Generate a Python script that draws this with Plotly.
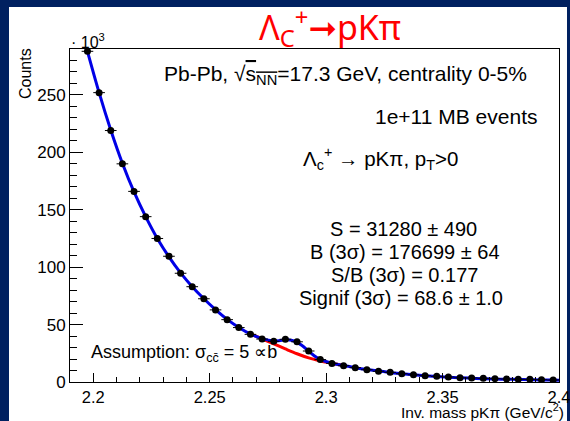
import plotly.graph_objects as go

# ---- data (counts in units of 10^3) ----
mass = [2.1975, 2.2025, 2.2075, 2.2125, 2.2175, 2.2225, 2.2275, 2.2325, 2.2375, 2.2425,
        2.2475, 2.2525, 2.2575, 2.2625, 2.2675, 2.2725, 2.2775, 2.2825, 2.2875, 2.2925,
        2.2975, 2.3025, 2.3075, 2.3125, 2.3175, 2.3225, 2.3275, 2.3325, 2.3375, 2.3425,
        2.3475, 2.3525, 2.3575, 2.3625, 2.3675, 2.3725, 2.3775, 2.3825, 2.3875, 2.3925,
        2.3975]
counts = [288, 252, 219, 190, 166, 144, 125, 109.5, 94.7, 83,
          72.5, 62.8, 54.3, 47.4, 41.5, 37.4, 35.4, 37.2, 35.0, 27.0,
          19.5, 16.2, 14.2, 12.5, 10.7, 9.3, 8.4, 7.2, 6.3, 5.5,
          4.9, 4.3, 3.7, 3.5, 3.2, 2.9, 2.6, 2.3, 2.3, 2.0,
          1.7]
half_bin = [0.0025] * len(mass)

# total fit curve
fit_x = [2.1975, 2.2025, 2.2075, 2.2125, 2.2175, 2.2225, 2.2275, 2.2325, 2.2375, 2.2425,
         2.2475, 2.2525, 2.2575, 2.2625, 2.2675, 2.2725, 2.2775, 2.2805, 2.2835, 2.2865,
         2.2895, 2.2925, 2.2955, 2.2985, 2.3025, 2.3075, 2.3125, 2.3175, 2.3225, 2.3275,
         2.3325, 2.3375, 2.3425, 2.3475, 2.3525, 2.3575, 2.3625, 2.3675, 2.3725, 2.3775,
         2.3825, 2.3875, 2.3925, 2.3975, 2.4]
fit_y = [288, 252, 219.5, 190.5, 165.5, 144, 125, 109, 95, 83,
         72.5, 63, 54.5, 47.5, 41.8, 37.8, 35.8, 36.2, 36.8, 35.5,
         32, 27, 22, 18.8, 16.3, 14.3, 12.5, 10.9, 9.5, 8.3,
         7.2, 6.3, 5.5, 4.8, 4.2, 3.7, 3.3, 2.9, 2.6, 2.4,
         2.2, 2.0, 1.8, 1.7, 1.6]

# background curve (visible part)
bkg_x = [2.2675, 2.2725, 2.2775, 2.2825, 2.2875, 2.2925, 2.2975, 2.3025, 2.3075]
bkg_y = [41.8, 37.6, 33.2, 28.8, 24.6, 21.0, 18.3, 16.3, 14.3]

x_ticks = [2.2, 2.25, 2.3, 2.35, 2.4]
x_ticklabels = ["2.2", "2.25", "2.3", "2.35", "2.4"]
y_ticks = [0, 50, 100, 150, 200, 250]
y_ticklabels = ["0", "50", "100", "150", "200", "250"]

# ---- geometry helpers (pixel -> paper) ----
W, H = 570, 421
L, R, T, B = 70, 559, 49, 382


def px(x):
    return (x - L) / (R - L)


def py(y):
    return (B - y) / (B - T)


FONT = "Liberation Sans, Arial, sans-serif"

fig = go.Figure()
fig.add_trace(go.Scatter(x=bkg_x, y=bkg_y, mode="lines", line=dict(color="#ff0000", width=3, shape="spline"),
                         hoverinfo="skip", cliponaxis=True))
fig.add_trace(go.Scatter(x=fit_x, y=fit_y, mode="lines", line=dict(color="#0000e6", width=3, shape="spline"),
                         hoverinfo="skip", cliponaxis=True))
fig.add_trace(go.Scatter(x=mass, y=counts, mode="markers",
                         marker=dict(color="black", size=7, symbol="circle"),
                         error_x=dict(type="data", array=half_bin, visible=True, color="black", thickness=1, width=0),
                         cliponaxis=True))

fig.update_layout(
    width=W, height=H,
    margin=dict(l=L, r=W - R, t=T, b=H - B, autoexpand=False),
    paper_bgcolor="#002060",
    plot_bgcolor="white",
    showlegend=False,
    font=dict(family=FONT, color="black", size=17),
    xaxis=dict(range=[2.19, 2.40001], tickvals=x_ticks, ticktext=x_ticklabels,
               ticks="inside", ticklen=9, tickwidth=1, tickcolor="black",
               minor=dict(dtick=0.01, tick0=2.19, ticks="inside", ticklen=5, tickcolor="black", tickwidth=1),
               showline=True, linecolor="black", linewidth=1, mirror=True,
               showgrid=False, zeroline=False, tickfont=dict(size=16.5),
               ticklabeloverflow="allow", automargin=False),
    yaxis=dict(range=[0, 290], tickvals=y_ticks, ticktext=y_ticklabels,
               ticks="inside", ticklen=13, tickwidth=1, tickcolor="black",
               minor=dict(dtick=10, tick0=0, ticks="inside", ticklen=7, tickcolor="black", tickwidth=1),
               showline=True, linecolor="black", linewidth=1, mirror=True,
               showgrid=False, zeroline=False, tickfont=dict(size=17), automargin=False),
    shapes=[dict(type="rect", xref="paper", yref="paper", layer="below",
                 x0=px(9), x1=px(567), y0=py(H + 5), y1=py(7),
                 fillcolor="white", line=dict(width=0))],
)

ann = []


def add(text, x, y, xanchor="left", size=20, color="black", family=FONT, textangle=0):
    ann.append(dict(text=text, x=px(x), y=py(y), xref="paper", yref="paper",
                    xanchor=xanchor, yanchor="middle", showarrow=False,
                    font=dict(size=size, color=color, family=family), textangle=textangle))


add("Λ<sub>C</sub><sup>+</sup>➞pKπ", 330, 28, xanchor="center", size=34, color="#ff0000",
    family="Noto Sans, DejaVu Sans, sans-serif")
add("· 10<sup>3</sup>", 69, 41, size=16)
add("Counts", 25, 74, xanchor="center", size=16, textangle=-90)
add("Inv. mass pKπ (GeV/c<sup>2</sup>)", 566, 410.5, xanchor="right", size=15.5)
add("Pb-Pb, √<span style='text-decoration:overline'>s<sub>NN</sub></span>=17.3 GeV, centrality 0-5%",
    162, 75, size=21)
add("1e+11 MB events", 539, 117, xanchor="right", size=21)
add("Λ<sub>c</sub><sup>+</sup> → pKπ, p<sub>T</sub>>0", 301, 158, size=20.5)
add("S = 31280 ± 490", 403, 229, xanchor="center", size=20)
add("B (3σ) = 176699 ± 64", 405, 252, xanchor="center", size=20)
add("S/B (3σ) = 0.177", 404, 275, xanchor="center", size=20)
add("Signif (3σ) = 68.6 ± 1.0", 401, 298, xanchor="center", size=20)
add("Assumption: σ<sub>cc̄</sub> = 5 ∝b", 89, 353, size=18)

fig.update_layout(annotations=ann)
fig.write_html("out.html")
